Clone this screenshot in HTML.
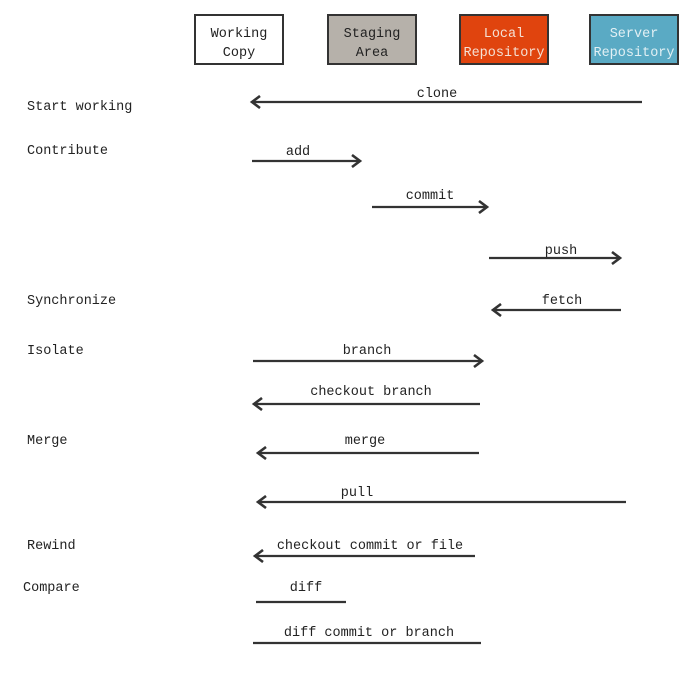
<!DOCTYPE html>
<html><head><style>body{margin:0;background:#fff}</style></head><body>
<svg width="700" height="670" xmlns="http://www.w3.org/2000/svg" font-family="Liberation Mono, monospace" font-size="13.5" fill="#222" style="font-weight:500">
<defs><marker id="a" markerWidth="12" markerHeight="14" refX="9" refY="7" orient="auto" markerUnits="userSpaceOnUse"><path d="M1,1 L9,7 L1,13" fill="none" stroke="#333" stroke-width="2.6"/></marker></defs>
<g stroke="#333" stroke-width="2">
<rect x="195" y="15" width="88" height="49" fill="#fff"/>
<rect x="328" y="15" width="88" height="49" fill="#b6b1aa"/>
<rect x="460" y="15" width="88" height="49" fill="#e0440e"/>
<rect x="590" y="15" width="88" height="49" fill="#5aaac4"/>
</g>
<g text-anchor="middle">
<text x="239" y="37">Working</text><text x="239" y="56">Copy</text>
<text x="372" y="37">Staging</text><text x="372" y="56">Area</text>
<text x="504" y="37" fill="#f4e0d4">Local</text><text x="504" y="56" fill="#f4e0d4">Repository</text>
<text x="634" y="37" fill="#e2f0f4">Server</text><text x="634" y="56" fill="#e2f0f4">Repository</text>
</g>
<g stroke="#333" stroke-width="2.2" fill="none" marker-end="url(#a)">
<line x1="642" y1="102" x2="252" y2="102"/>
<line x1="252" y1="161" x2="360" y2="161"/>
<line x1="372" y1="207" x2="487" y2="207"/>
<line x1="489" y1="258" x2="620" y2="258"/>
<line x1="621" y1="310" x2="493" y2="310"/>
<line x1="253" y1="361" x2="482" y2="361"/>
<line x1="480" y1="404" x2="254" y2="404"/>
<line x1="479" y1="453" x2="258" y2="453"/>
<line x1="626" y1="502" x2="258" y2="502"/>
<line x1="475" y1="556" x2="255" y2="556"/>
</g>
<g stroke="#333" stroke-width="2.2">
<line x1="256" y1="602" x2="346" y2="602"/>
<line x1="253" y1="643" x2="481" y2="643"/>
</g>
<g text-anchor="middle">
<text x="437" y="97">clone</text>
<text x="298" y="155">add</text>
<text x="430" y="199">commit</text>
<text x="561" y="254">push</text>
<text x="562" y="304">fetch</text>
<text x="367" y="354">branch</text>
<text x="371" y="395">checkout branch</text>
<text x="365" y="444">merge</text>
<text x="357" y="496">pull</text>
<text x="370" y="549">checkout commit or file</text>
<text x="306" y="591">diff</text>
<text x="369" y="636">diff commit or branch</text>
</g>
<text x="27" y="110">Start working</text>
<text x="27" y="154">Contribute</text>
<text x="27" y="304">Synchronize</text>
<text x="27" y="354">Isolate</text>
<text x="27" y="444">Merge</text>
<text x="27" y="549">Rewind</text>
<text x="23" y="591">Compare</text>
</svg>
</body></html>
